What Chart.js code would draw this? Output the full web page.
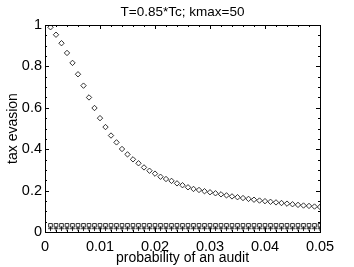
<!DOCTYPE html>
<html>
<head>
<meta charset="utf-8">
<script src="https://cdn.jsdelivr.net/npm/chart.js@4/dist/chart.umd.min.js"></script>
<style>
  html, body { margin: 0; padding: 0; background: #fff; }
  #wrap { width: 354px; height: 267px; }
</style>
</head>
<body>
<div id="wrap"><canvas id="evasionChart" width="354" height="267"></canvas></div>
<script>
// Audit probability (x) and tax evasion levels
const auditProb = [
    0.001, 0.002, 0.003, 0.004, 0.005, 0.006, 0.007, 0.008, 0.009, 0.010,
    0.011, 0.012, 0.013, 0.014, 0.015, 0.016, 0.017, 0.018, 0.019, 0.020,
    0.021, 0.022, 0.023, 0.024, 0.025, 0.026, 0.027, 0.028, 0.029, 0.030,
    0.031, 0.032, 0.033, 0.034, 0.035, 0.036, 0.037, 0.038, 0.039, 0.040,
    0.041, 0.042, 0.043, 0.044, 0.045, 0.046, 0.047, 0.048, 0.049, 0.050,
];
const evasionDiamond = [
    0.989, 0.953, 0.912, 0.865, 0.817, 0.762, 0.707, 0.650, 0.599, 0.550,
    0.507, 0.466, 0.433, 0.401, 0.375, 0.351, 0.332, 0.312, 0.296, 0.282,
    0.267, 0.256, 0.247, 0.235, 0.226, 0.216, 0.208, 0.203, 0.197, 0.192,
    0.187, 0.182, 0.177, 0.172, 0.168, 0.164, 0.160, 0.156, 0.152, 0.149,
    0.146, 0.143, 0.140, 0.137, 0.134, 0.131, 0.128, 0.126, 0.123, 0.121,
];
const evasionSquare = [
    0.032, 0.032, 0.032, 0.032, 0.032, 0.032, 0.032, 0.032, 0.032, 0.032,
    0.032, 0.032, 0.032, 0.032, 0.032, 0.032, 0.032, 0.032, 0.032, 0.032,
    0.032, 0.032, 0.032, 0.032, 0.032, 0.032, 0.032, 0.032, 0.032, 0.032,
    0.032, 0.032, 0.032, 0.032, 0.032, 0.032, 0.032, 0.032, 0.032, 0.032,
    0.032, 0.032, 0.032, 0.032, 0.032, 0.032, 0.032, 0.032, 0.032, 0.032,
];
const evasionPlus = [
    0.016, 0.016, 0.016, 0.016, 0.016, 0.016, 0.016, 0.016, 0.016, 0.016,
    0.016, 0.016, 0.016, 0.016, 0.016, 0.016, 0.016, 0.016, 0.016, 0.016,
    0.016, 0.016, 0.016, 0.016, 0.016, 0.016, 0.016, 0.016, 0.016, 0.016,
    0.016, 0.016, 0.016, 0.016, 0.016, 0.016, 0.016, 0.016, 0.016, 0.016,
    0.016, 0.016, 0.016, 0.016, 0.016, 0.016, 0.016, 0.016, 0.016, 0.016,
];

// Tick labels
const xTickValues = [0, 0.01, 0.02, 0.03, 0.04, 0.05];
const yTickValues = [0, 0.2, 0.4, 0.6, 0.8, 1];

const FONT = "'Liberation Sans', Arial, Helvetica, sans-serif";

function toPoints(xs, ys) {
    return xs.map((x, i) => ({ x: x, y: ys[i] }));
}

// Box frame and inward MATLAB-style ticks on all four sides
const frameTicks = {
    id: "frameTicks",
    afterDraw(chart) {
        const { ctx, chartArea: a, scales } = chart;
        const xs = scales.x;
        const ys = scales.y;
        ctx.save();
        ctx.strokeStyle = "#000";
        ctx.lineWidth = 1;
        ctx.beginPath();
        ctx.rect(Math.round(a.left) + 0.5, Math.round(a.top) + 0.5,
            Math.round(a.right - a.left), Math.round(a.bottom - a.top));
        ctx.stroke();

        ctx.beginPath();
        for (let i = 0; i <= 25; i++) {
            const v = i * 0.002;
            const px = Math.round(xs.getPixelForValue(v)) + 0.5;
            const len = i % 5 === 0 ? 4 : 2;
            ctx.moveTo(px, a.bottom);
            ctx.lineTo(px, a.bottom - len);
            ctx.moveTo(px, a.top);
            ctx.lineTo(px, a.top + len);
        }
        for (let i = 0; i <= 20; i++) {
            const v = i * 0.05;
            const py = Math.round(ys.getPixelForValue(v)) + 0.5;
            const len = i % 4 === 0 ? 4 : 2;
            ctx.moveTo(a.left, py);
            ctx.lineTo(a.left + len, py);
            ctx.moveTo(a.right, py);
            ctx.lineTo(a.right - len, py);
        }
        ctx.stroke();
        ctx.restore();
    },
};

const markerBase = {
    showLine: false,
    borderColor: "#000",
    backgroundColor: "rgba(255,255,255,0)",
    borderWidth: 0.8,
};

new Chart(document.getElementById("evasionChart").getContext("2d"), {
    type: "scatter",
    data: {
        datasets: [
            Object.assign({}, markerBase, {
                label: "diamonds",
                data: toPoints(auditProb, evasionDiamond),
                pointStyle: "rectRot",
                pointRadius: 2.7,
            }),
            Object.assign({}, markerBase, {
                label: "squares",
                data: toPoints(auditProb, evasionSquare),
                pointStyle: "rect",
                pointRadius: 2.6,
            }),
            Object.assign({}, markerBase, {
                label: "plus",
                data: toPoints(auditProb, evasionPlus),
                pointStyle: "cross",
                pointRadius: 2.4,
            }),
        ],
    },
    options: {
        responsive: false,
        animation: false,
        events: [],
        layout: {
            padding: { top: 0, right: 34, bottom: 0, left: 0 },
        },
        plugins: {
            legend: { display: false },
            tooltip: { enabled: false },
            title: {
                display: true,
                fullSize: false,
                text: "T=0.85*Tc; kmax=50",
                color: "#000",
                font: { family: FONT, size: 13.5, weight: "normal" },
                padding: { top: 4, bottom: 4.8 },
            },
        },
        scales: {
            x: {
                type: "linear",
                min: 0,
                max: 0.05,
                afterBuildTicks: (scale) => {
                    scale.ticks = xTickValues.map((v) => ({ value: v }));
                },
                afterFit: (scale) => {
                    scale.height = 35;
                },
                grid: { drawOnChartArea: false, drawTicks: false },
                border: { display: true, color: "#000", width: 1 },
                ticks: {
                    color: "#000",
                    padding: 6,
                    maxRotation: 0,
                    font: { family: FONT, size: 14.5 },
                    callback: (v) => String(v),
                },
                title: {
                    display: true,
                    text: "probability of an audit",
                    color: "#000",
                    font: { family: FONT, size: 14 },
                    padding: { top: 0, bottom: 0.6 },
                },
            },
            y: {
                type: "linear",
                min: 0,
                max: 1,
                afterBuildTicks: (scale) => {
                    scale.ticks = yTickValues.map((v) => ({ value: v }));
                },
                afterFit: (scale) => {
                    scale.width = 45;
                },
                grid: { drawOnChartArea: false, drawTicks: false },
                border: { display: true, color: "#000", width: 1 },
                ticks: {
                    color: "#000",
                    padding: 3,
                    font: { family: FONT, size: 14.5 },
                    callback: (v) => String(v),
                },
                title: {
                    display: true,
                    text: "tax evasion",
                    color: "#000",
                    font: { family: FONT, size: 14 },
                    padding: { top: 5, bottom: 0 },
                },
            },
        },
    },
    plugins: [frameTicks],
});
</script>
</body>
</html>
